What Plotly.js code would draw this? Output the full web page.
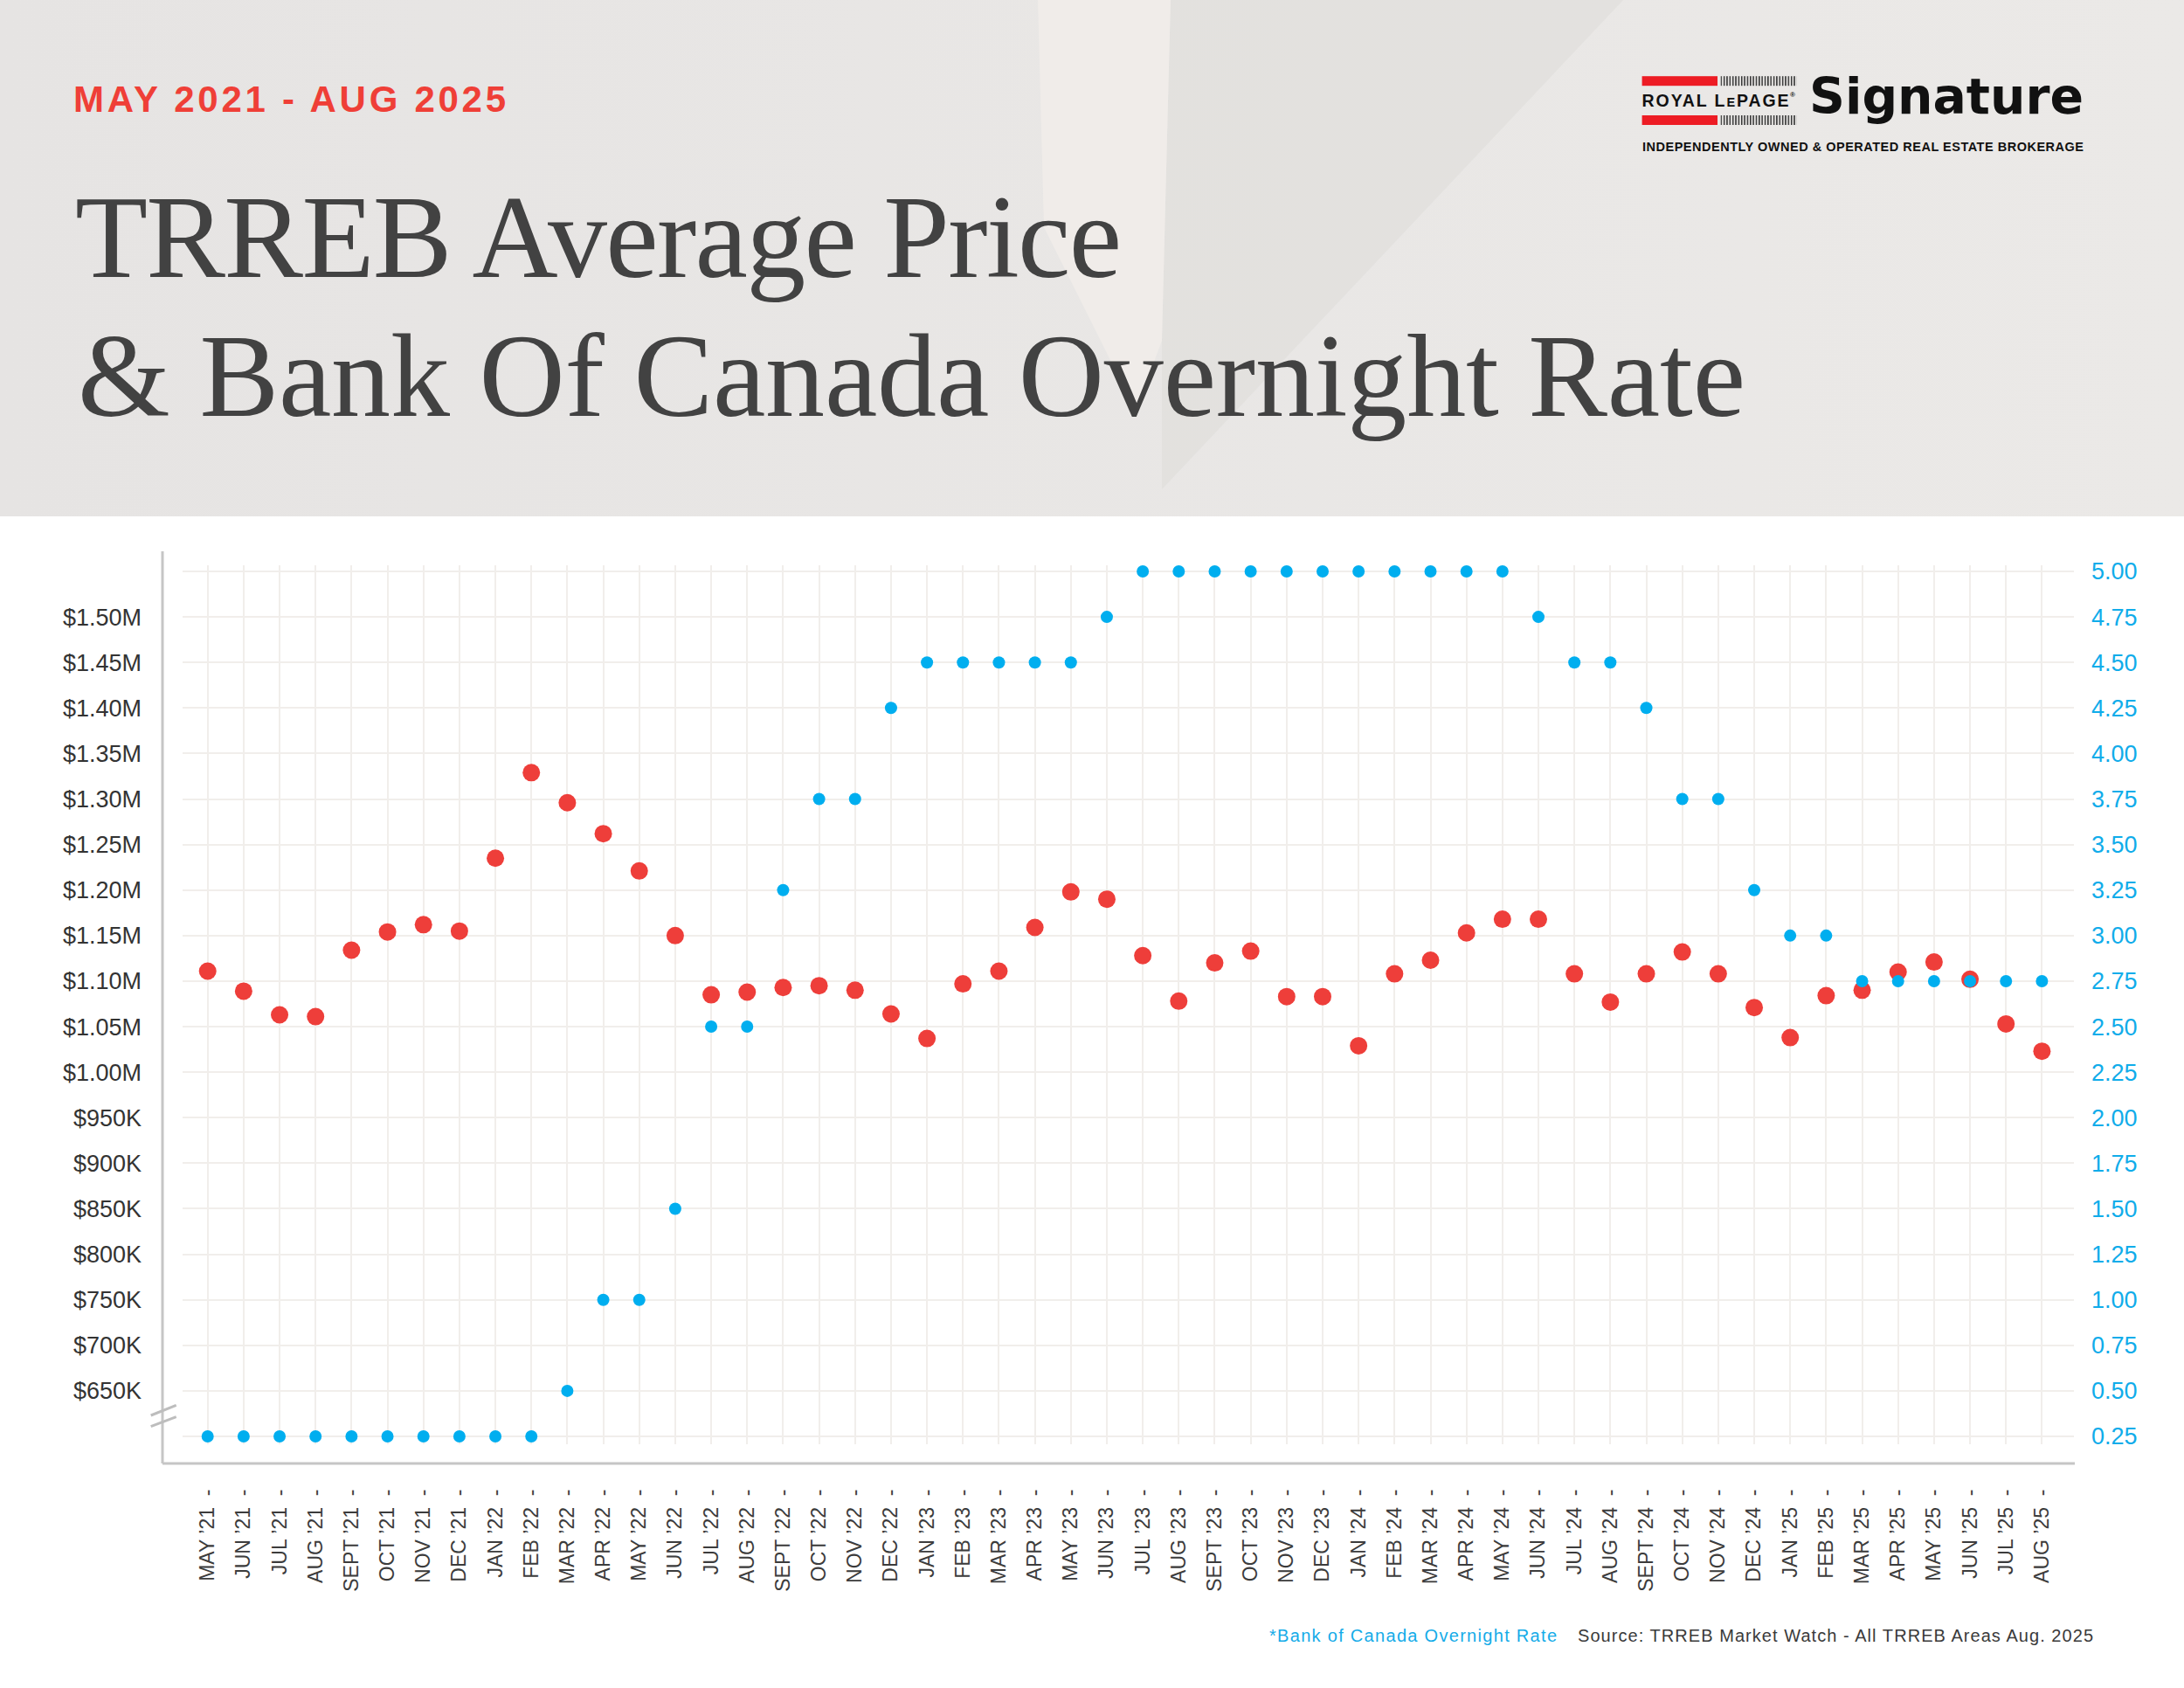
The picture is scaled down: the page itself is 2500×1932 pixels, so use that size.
<!DOCTYPE html>
<html>
<head>
<meta charset="utf-8">
<script src="https://cdn.plot.ly/plotly-3.0.1.min.js"></script>
<style>
  html, body { margin: 0; padding: 0; background: #ffffff; }
  #wrap { position: relative; width: 2500px; height: 1932px; overflow: hidden; background: #ffffff; }
  #deco { position: absolute; left: 0; top: 0; }
  #chart { position: absolute; left: 0; top: 0; width: 2500px; height: 1932px; }
</style>
</head>
<body>
<div id="wrap">
<svg id="deco" width="2500" height="1932" xmlns="http://www.w3.org/2000/svg">
  <defs>
    <linearGradient id="hdr" x1="0" y1="0" x2="1" y2="0">
      <stop offset="0" stop-color="#E6E4E3"/>
      <stop offset="1" stop-color="#EBE9E7"/>
    </linearGradient>
    <pattern id="bc" x="1969.5" y="0" width="3.35" height="200" patternUnits="userSpaceOnUse">
      <rect x="0" y="0" width="1.5" height="200" fill="#333"/>
    </pattern>
  </defs>
  <rect x="0" y="0" width="2500" height="591" fill="url(#hdr)"/>
  <polygon points="1340,0 1858,0 1330,560 1330,390" fill="#E0DEDC" opacity="0.7"/>
  <polygon points="1188,0 1340,0 1330,390 1300,470 1195,260" fill="#F1EEEA" opacity="0.8"/>

  <text x="84" y="127.6" font-family="Liberation Sans, Arial, sans-serif" font-weight="700" font-size="42" fill="#EF3F37" textLength="495" lengthAdjust="spacing">MAY 2021 - AUG 2025</text>

  <text x="86" y="316.7" font-family="Liberation Serif, serif" font-size="136" fill="#424242" textLength="1198" lengthAdjust="spacing">TRREB Average Price</text>
  <text x="89" y="475.7" font-family="Liberation Serif, serif" font-size="136" fill="#424242" textLength="1909" lengthAdjust="spacing">&amp; Bank Of Canada Overnight Rate</text>

  <!-- logo -->
  <rect x="1879.6" y="87.2" width="86.4" height="11" fill="#ED1C24"/>
  <rect x="1969.5" y="87.2" width="86.8" height="11" fill="url(#bc)"/>
  <text x="1879.6" y="121.6" font-family="Liberation Sans, Arial, sans-serif" font-weight="700" font-size="19.5" fill="#111" textLength="168" lengthAdjust="spacing">ROYAL L<tspan font-size="14.5">E</tspan>PAGE</text>
  <text x="2049" y="111" font-family="Liberation Sans, Arial, sans-serif" font-weight="700" font-size="8" fill="#111">®</text>
  <rect x="1879.6" y="132" width="86.4" height="11" fill="#ED1C24"/>
  <rect x="1969.5" y="132" width="86.8" height="11" fill="url(#bc)"/>
  <text x="2071" y="130" font-family="DejaVu Sans, sans-serif" font-weight="700" font-size="57" fill="#111" textLength="314" lengthAdjust="spacingAndGlyphs">Signature</text>
  <text x="1880" y="172.6" font-family="Liberation Sans, Arial, sans-serif" font-weight="700" font-size="14.5" fill="#111" textLength="505" lengthAdjust="spacing">INDEPENDENTLY OWNED &amp; OPERATED REAL ESTATE BROKERAGE</text>

  <!-- footer -->
  <text x="1453" y="1879.3" font-family="Liberation Sans, Arial, sans-serif" font-size="20" fill="#14ABE8" textLength="329" lengthAdjust="spacing">*Bank of Canada Overnight Rate</text>
  <text x="1806" y="1879.3" font-family="Liberation Sans, Arial, sans-serif" font-size="20" fill="#3A3A3A" textLength="590" lengthAdjust="spacing">Source: TRREB Market Watch - All TRREB Areas Aug. 2025</text>
</svg>
<div id="chart"></div>
</div>
<script>
// ---------------- DATA ----------------
const months = [
  "MAY ’21","JUN ’21","JUL ’21","AUG ’21","SEPT ’21","OCT ’21","NOV ’21","DEC ’21",
  "JAN ’22","FEB ’22","MAR ’22","APR ’22","MAY ’22","JUN ’22","JUL ’22","AUG ’22","SEPT ’22","OCT ’22","NOV ’22","DEC ’22",
  "JAN ’23","FEB ’23","MAR ’23","APR ’23","MAY ’23","JUN ’23","JUL ’23","AUG ’23","SEPT ’23","OCT ’23","NOV ’23","DEC ’23",
  "JAN ’24","FEB ’24","MAR ’24","APR ’24","MAY ’24","JUN ’24","JUL ’24","AUG ’24","SEPT ’24","OCT ’24","NOV ’24","DEC ’24",
  "JAN ’25","FEB ’25","MAR ’25","APR ’25","MAY ’25","JUN ’25","JUL ’25","AUG ’25"
];

// TRREB average price (CAD)
const avgPrice = [
  1111000, 1089000, 1063000, 1061000, 1134000, 1154000, 1162000, 1155000,
  1235000, 1329000, 1296000, 1262000, 1221000, 1150000, 1085000, 1088000, 1093000, 1095000, 1090000, 1064000,
  1037000, 1097000, 1111000, 1159000, 1198000, 1190000, 1128000, 1078000, 1120000, 1133000, 1083000, 1083000,
  1029000, 1108000, 1123000, 1153000, 1168000, 1168000, 1108000, 1077000, 1108000, 1132000, 1108000, 1071000,
  1038000, 1084000, 1090000, 1110000, 1121000, 1102000, 1053000, 1023000
];

// Bank of Canada overnight rate (%)
const overnightRate = [
  0.25, 0.25, 0.25, 0.25, 0.25, 0.25, 0.25, 0.25,
  0.25, 0.25, 0.50, 1.00, 1.00, 1.50, 2.50, 2.50, 3.25, 3.75, 3.75, 4.25,
  4.50, 4.50, 4.50, 4.50, 4.50, 4.75, 5.00, 5.00, 5.00, 5.00, 5.00, 5.00,
  5.00, 5.00, 5.00, 5.00, 5.00, 4.75, 4.50, 4.50, 4.25, 3.75, 3.75, 3.25,
  3.00, 3.00, 2.75, 2.75, 2.75, 2.75, 2.75, 2.75
];

const priceTickVals = [600000, 650000, 700000, 750000, 800000, 850000, 900000, 950000, 1000000,
  1050000, 1100000, 1150000, 1200000, 1250000, 1300000, 1350000, 1400000, 1450000, 1500000, 1550000];
const priceTickText = ["", "$650K", "$700K", "$750K", "$800K", "$850K", "$900K", "$950K", "$1.00M",
  "$1.05M", "$1.10M", "$1.15M", "$1.20M", "$1.25M", "$1.30M", "$1.35M", "$1.40M", "$1.45M", "$1.50M", ""];

const rateTickVals = [0.25, 0.50, 0.75, 1.00, 1.25, 1.50, 1.75, 2.00, 2.25, 2.50, 2.75, 3.00,
  3.25, 3.50, 3.75, 4.00, 4.25, 4.50, 4.75, 5.00];
const rateTickText = ["0.25", "0.50", "0.75", "1.00", "1.25", "1.50", "1.75", "2.00", "2.25", "2.50", "2.75", "3.00",
  "3.25", "3.50", "3.75", "4.00", "4.25", "4.50", "4.75", "5.00"];

// ---------------- LAYOUT ----------------
const W = 2500, H = 1932;
const PL = 209, PR = 2374, PT = 647, PB = 1653;
const plotW = PR - PL, plotH = PB - PT;
const px2x = p => (p - PL) / plotW;
const px2y = p => (PB - p) / plotH;

const gridCol = "#F1EEEB";
const axisCol = "#C6C6C6";

const traces = [
  {
    x: months, y: avgPrice, type: "scatter", mode: "markers", yaxis: "y",
    marker: { size: 20, color: "#EE3E3A" }, cliponaxis: false, hoverinfo: "skip"
  },
  {
    x: months, y: overnightRate, type: "scatter", mode: "markers", yaxis: "y2",
    marker: { size: 14, color: "#00AEEF" }, cliponaxis: false, hoverinfo: "skip"
  }
];

const layout = {
  width: W, height: H,
  margin: { l: PL, r: W - PR, t: PT, b: H - PB, pad: 0 },
  paper_bgcolor: "rgba(0,0,0,0)",
  plot_bgcolor: "#ffffff",
  showlegend: false,
  hovermode: false,
  xaxis: {
    type: "category",
    range: [-0.697, 51.889],
    tickmode: "array",
    tickvals: months,
    ticktext: months.map(m => m + "\u00a0\u00a0-"),
    tickangle: -90,
    tickfont: { family: "Liberation Sans, Arial, sans-serif", size: 23, color: "#3C3C3C" },
    ticks: "",
    ticklabelstandoff: 46,
    showgrid: true, gridcolor: gridCol, gridwidth: 2,
    zeroline: false, showline: false, automargin: false, fixedrange: true
  },
  yaxis: {
    range: [591360, 1556720],
    tickmode: "array",
    tickvals: priceTickVals,
    ticktext: priceTickText,
    tickfont: { family: "Liberation Sans, Arial, sans-serif", size: 27, color: "#333333" },
    ticks: "",
    ticklabelstandoff: 46,
    showgrid: true, gridcolor: gridCol, gridwidth: 2,
    zeroline: false, showline: false, automargin: false, fixedrange: true
  },
  yaxis2: {
    overlaying: "y", side: "right",
    range: [0.2068, 5.0336],
    tickmode: "array",
    tickvals: rateTickVals,
    ticktext: rateTickText,
    tickfont: { family: "Liberation Sans, Arial, sans-serif", size: 27, color: "#10ACEA" },
    ticks: "",
    ticklabelstandoff: 19,
    showgrid: false, zeroline: false, showline: false, automargin: false, fixedrange: true
  },
  shapes: [
    { type: "line", xref: "paper", yref: "paper", x0: px2x(186), x1: px2x(186), y0: px2y(1675), y1: px2y(631),
      line: { color: axisCol, width: 3 } },
    { type: "line", xref: "paper", yref: "paper", x0: px2x(186), x1: px2x(2375), y0: px2y(1675), y1: px2y(1675),
      line: { color: axisCol, width: 3 } },
    { type: "line", xref: "paper", yref: "paper", x0: px2x(172.7), x1: px2x(201.7), y0: px2y(1620), y1: px2y(1608.3),
      line: { color: "#BDBDBD", width: 3 } },
    { type: "line", xref: "paper", yref: "paper", x0: px2x(172.7), x1: px2x(201.7), y0: px2y(1632.7), y1: px2y(1621.7),
      line: { color: "#BDBDBD", width: 3 } }
  ]
};

Plotly.newPlot("chart", traces, layout, { staticPlot: true, displayModeBar: false });
</script>
</body>
</html>
